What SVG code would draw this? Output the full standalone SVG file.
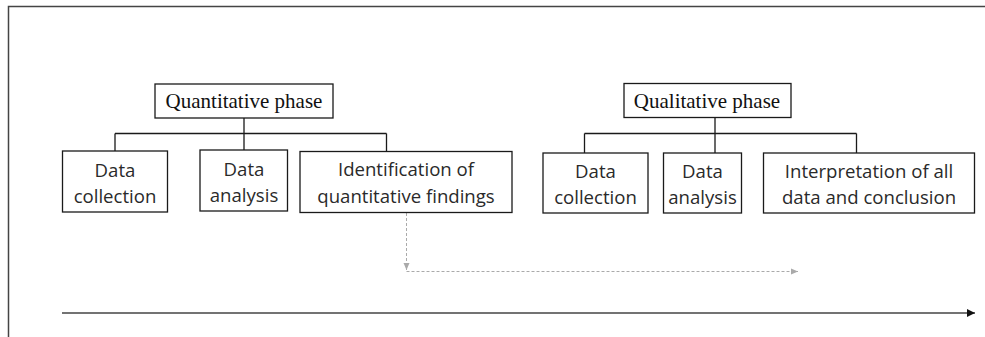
<svg xmlns="http://www.w3.org/2000/svg" width="985" height="337" viewBox="0 0 985 337">
<defs>
<style>
.box{fill:#fff;stroke:#1a1a1a;stroke-width:1.3}
.ph{font-family:"Liberation Serif","Times New Roman",serif;font-size:21px;fill:#111;text-anchor:middle}
.tx{font-family:"Open Sans","Liberation Sans",sans-serif;font-size:18.6px;fill:#2a2a2a;text-anchor:middle}
.ln{stroke:#1a1a1a;stroke-width:1.3;fill:none}
.dash{stroke:#aaa;stroke-width:1;stroke-dasharray:3 2;fill:none}
</style>
<marker id="ag" markerWidth="8" markerHeight="8" refX="7" refY="4" orient="auto" markerUnits="userSpaceOnUse">
<path d="M0,1 L7,4 L0,7 Z" fill="#aaa"/>
</marker>
<marker id="ab" markerWidth="10" markerHeight="10" refX="8" refY="5" orient="auto" markerUnits="userSpaceOnUse">
<path d="M0,1 L8,5 L0,9 Z" fill="#111"/>
</marker>
</defs>
<g id="frame">
<path d="M8.5,337 V6.5 H985" stroke="#444" stroke-width="1.5" fill="none"/>
</g>
<g id="connectors">
<path class="ln" d="M244,118 V133.5 M115,133.5 H386.5 M115,133.5 V151 M244,133.5 V150 M386.5,133.5 V151.5"/>
<path class="ln" d="M715,118 V133.5 M584.5,133.5 H856.5 M584.5,133.5 V153 M715,133.5 V153 M856.5,133.5 V153"/>
<path class="dash" d="M406.5,213 V270" marker-end="url(#ag)"/>
<path class="dash" d="M406.5,271.5 H798" marker-end="url(#ag)"/>
<path d="M62,313 H975" stroke="#444" stroke-width="1.6" fill="none" marker-end="url(#ab)"/>
</g>
<g id="quant-phase">
<rect class="box" x="155" y="84" width="178" height="34"/>
<text class="ph" x="244" y="107.5">Quantitative phase</text>
</g>
<g id="quant-collection">
<rect class="box" x="62.5" y="151" width="105" height="61"/>
<text class="tx" x="115" y="176.5">Data</text>
<text class="tx" x="115" y="202.5">collection</text>
</g>
<g id="quant-analysis">
<rect class="box" x="200" y="150" width="87.5" height="61"/>
<text class="tx" x="244" y="176">Data</text>
<text class="tx" x="244" y="202">analysis</text>
</g>
<g id="quant-findings">
<rect class="box" x="300" y="151.5" width="212" height="61"/>
<text class="tx" x="406" y="176">Identification of</text>
<text class="tx" x="406" y="202.5">quantitative findings</text>
</g>
<g id="qual-phase">
<rect class="box" x="624" y="83.5" width="167" height="34"/>
<text class="ph" x="707" y="107.5">Qualitative phase</text>
</g>
<g id="qual-collection">
<rect class="box" x="543" y="153" width="105" height="60"/>
<text class="tx" x="595.5" y="178">Data</text>
<text class="tx" x="595.5" y="203.5">collection</text>
</g>
<g id="qual-analysis">
<rect class="box" x="663.5" y="153" width="78" height="60"/>
<text class="tx" x="702.5" y="178">Data</text>
<text class="tx" x="702.5" y="203.5">analysis</text>
</g>
<g id="qual-interpretation">
<rect class="box" x="763.5" y="153" width="211" height="60"/>
<text class="tx" x="869" y="178">Interpretation of all</text>
<text class="tx" x="869" y="203.5">data and conclusion</text>
</g>
</svg>
